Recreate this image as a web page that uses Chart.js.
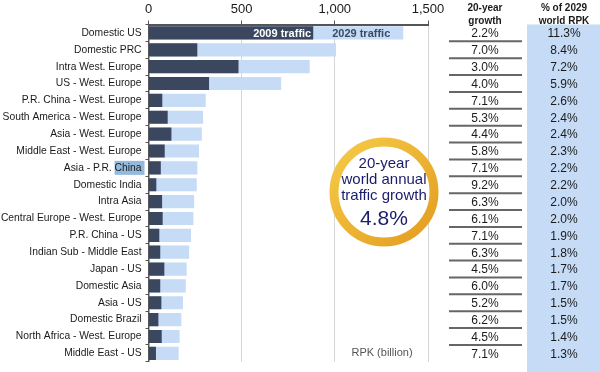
<!DOCTYPE html>
<html>
<head>
<meta charset="utf-8">
<script src="https://cdn.jsdelivr.net/npm/chart.js@4.4.1/dist/chart.umd.min.js"></script>
<style>
    html, body { margin: 0; padding: 0; background: #fff; }
    #wrap { width: 600px; height: 372px; }
</style>
</head>
<body>
<div id="wrap"><canvas id="rpkChart" width="600" height="372"></canvas></div>
<script>
// Route flows, RPK in billions
const routes = [
    'Domestic US', 'Domestic PRC', 'Intra West. Europe', 'US - West. Europe',
    'P.R. China - West. Europe', 'South America - West. Europe', 'Asia - West. Europe',
    'Middle East - West. Europe', 'Asia - P.R. China', 'Domestic India', 'Intra Asia',
    'Central Europe - West. Europe', 'P.R. China - US', 'Indian Sub - Middle East',
    'Japan - US', 'Domestic Asia', 'Asia - US', 'Domestic Brazil',
    'North Africa - West. Europe', 'Middle East - US'
];
const traffic2009 = [884, 262, 483, 325, 74, 103, 123, 87, 66, 42, 73, 76, 58, 63, 85, 63, 69, 53, 71, 40];
const traffic2029 = [1367, 1006, 865, 712, 307, 293, 286, 271, 262, 259, 245, 241, 228, 218, 205, 200, 185, 176, 167, 162];
const growth20y = ['2.2%', '7.0%', '3.0%', '4.0%', '7.1%', '5.3%', '4.4%', '5.8%', '7.1%', '9.2%',
    '6.3%', '6.1%', '7.1%', '6.3%', '4.5%', '6.0%', '5.2%', '6.2%', '4.5%', '7.1%'];
const share2029 = ['11.3%', '8.4%', '7.2%', '5.9%', '2.6%', '2.4%', '2.4%', '2.3%', '2.2%', '2.2%',
    '2.0%', '2.0%', '1.9%', '1.8%', '1.7%', '1.7%', '1.5%', '1.5%', '1.4%', '1.3%'];
const worldGrowth = '4.8%';

const DARK = '#3a475f';
const LIGHT = '#c6dbf5';
const FONT = 'Liberation Sans, Arial, sans-serif';
const LABEL_SIZE = 10.3;

// 背景高亮 "China"（原图中的选中效果）
const highlightPlugin = {
    id: 'highlight',
    beforeDraw(chart) {
        const ctx = chart.ctx;
        const y = chart.scales.y.getPixelForValue(8);
        ctx.save();
        ctx.font = LABEL_SIZE + 'px ' + FONT;
        const w = ctx.measureText('China').width;
        ctx.fillStyle = '#93b9dc';
        ctx.fillRect(143.5 - w - 2, y - 7, w + 3, 14);
        ctx.restore();
    }
};

// 柱内标签
const barLabels = {
    id: 'barLabels',
    afterDatasetsDraw(chart) {
        const ctx = chart.ctx;
        const x = chart.scales.x;
        const y = chart.scales.y.getPixelForValue(0);
        const x09 = x.getPixelForValue(traffic2009[0]);
        const x29 = x.getPixelForValue(traffic2029[0]);
        ctx.save();
        ctx.font = 'bold 11px ' + FONT;
        ctx.textBaseline = 'middle';
        ctx.textAlign = 'right';
        ctx.fillStyle = '#ffffff';
        ctx.fillText('2009 traffic', x09 - 2, y + 1);
        ctx.textAlign = 'center';
        ctx.fillStyle = '#3d4a64';
        ctx.fillText('2029 traffic', (x09 + x29) / 2 + 3, y + 1);
        ctx.restore();
    }
};

// 右侧表格 + 圆形徽章
const sidePanel = {
    id: 'sidePanel',
    afterDraw(chart) {
        const ctx = chart.ctx;
        const ys = chart.scales.y;
        const area = chart.chartArea;
        const step = ys.getPixelForValue(1) - ys.getPixelForValue(0);
        ctx.save();

        // blue column
        ctx.fillStyle = LIGHT;
        ctx.fillRect(527, area.top, 73, 372 - area.top);

        // headers
        ctx.fillStyle = '#1a1a1a';
        ctx.font = 'bold 10px ' + FONT;
        ctx.textAlign = 'center';
        ctx.textBaseline = 'middle';
        ctx.fillText('20-year', 485, 8);
        ctx.fillText('growth', 485, 21);
        ctx.fillText('% of 2029', 564, 8);
        ctx.fillText('world RPK', 564, 21);

        ctx.font = '12px ' + FONT;
        routes.forEach((r, i) => {
            const cy = ys.getPixelForValue(i);
            ctx.fillStyle = '#1a1a1a';
            ctx.fillText(growth20y[i], 485, cy + 1);
            ctx.fillText(share2029[i], 564, cy + 1);
            if (i < routes.length - 1) {
                ctx.strokeStyle = '#666';
                ctx.lineWidth = 2;
                ctx.beginPath();
                ctx.moveTo(449, cy + step / 2);
                ctx.lineTo(522, cy + step / 2);
                ctx.stroke();
            }
        });

        // RPK label
        ctx.fillStyle = '#555';
        ctx.font = '11px ' + FONT;
        ctx.fillText('RPK (billion)', 382, 353);

        // badge
        const cx = 384, cyc = 192;
        const grad = ctx.createLinearGradient(cx - 55, cyc - 55, cx + 55, cyc + 55);
        grad.addColorStop(0, '#f6cd4a');
        grad.addColorStop(1, '#e39a1e');
        ctx.beginPath();
        ctx.arc(cx, cyc, 50, 0, Math.PI * 2);
        ctx.fillStyle = '#fff';
        ctx.fill();
        ctx.lineWidth = 9;
        ctx.strokeStyle = grad;
        ctx.stroke();

        ctx.fillStyle = '#1b1b6b';
        ctx.font = '15px ' + FONT;
        ctx.fillText('20-year', cx, 164);
        ctx.fillText('world annual', cx, 180);
        ctx.fillText('traffic growth', cx, 196);
        ctx.font = '21px ' + FONT;
        ctx.fillText(worldGrowth, cx, 219);
        ctx.restore();
    }
};

new Chart(document.getElementById('rpkChart').getContext('2d'), {
    type: 'bar',
    data: {
        labels: routes,
        datasets: [
            {
                label: '2009 traffic',
                data: traffic2009,
                backgroundColor: DARK,
                grouped: false,
                order: 0,
                barPercentage: 0.78,
                categoryPercentage: 1
            },
            {
                label: '2029 traffic',
                data: traffic2029,
                backgroundColor: LIGHT,
                grouped: false,
                order: 1,
                barPercentage: 0.78,
                categoryPercentage: 1
            }
        ]
    },
    options: {
        indexAxis: 'y',
        responsive: false,
        animation: false,
        layout: { padding: { left: 0, right: 172, top: 0, bottom: 3 } },
        plugins: {
            legend: { display: false },
            tooltip: { enabled: false }
        },
        scales: {
            x: {
                position: 'top',
                min: 0,
                max: 1500,
                ticks: {
                    stepSize: 500,
                    color: '#1a1a1a',
                    font: { size: 13, family: FONT },
                    padding: 3
                },
                grid: {
                    color: '#d6d6d6',
                    tickLength: 4,
                    tickColor: '#555'
                },
                border: { color: '#555', width: 2 },
                afterFit(scale) { scale.height = 24.5; }
            },
            y: {
                ticks: {
                    color: '#1a1a1a',
                    font: { size: LABEL_SIZE, family: FONT },
                    padding: 4,
                    autoSkip: false
                },
                grid: {
                    offset: true,
                    drawOnChartArea: false,
                    tickLength: 3,
                    color: '#555'
                },
                border: { color: '#555', width: 1.5 },
                afterFit(scale) { scale.width = 148.5; }
            }
        }
    },
    plugins: [highlightPlugin, barLabels, sidePanel]
});
</script>
</body>
</html>
